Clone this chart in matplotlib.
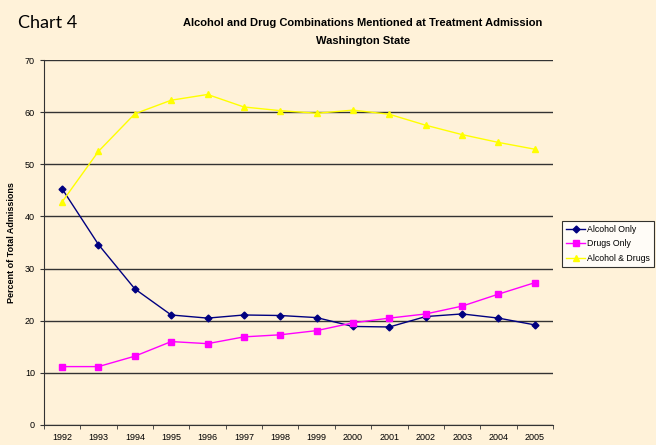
import matplotlib
matplotlib.use("Agg")
import matplotlib.pyplot as plt
import numpy as np

years = ["1992", "1993", "1994", "1995", "1996", "1997", "1998",
         "1999", "2000", "2001", "2002", "2003", "2004", "2005"]
alcohol_only = [45.3, 34.6, 26.1, 21.1, 20.5, 21.1, 21.0,
                20.6, 18.9, 18.8, 20.8, 21.3, 20.5, 19.2]
drugs_only = [11.2, 11.2, 13.2, 16.0, 15.6, 16.9, 17.3,
              18.1, 19.6, 20.5, 21.3, 22.8, 25.1, 27.3]
alcohol_drugs = [42.8, 52.5, 59.7, 62.3, 63.4, 61.0, 60.3,
                 59.8, 60.4, 59.6, 57.5, 55.7, 54.2, 52.9]

bg = "#FFF2D9"
plt.rcParams["font.family"] = ["Liberation Sans", "DejaVu Sans"]

fig = plt.figure(figsize=(6.56, 4.45), dpi=100, facecolor=bg)
ax = fig.add_axes([0.067, 0.045, 0.776, 0.82])
ax.set_facecolor(bg)

x = np.arange(len(years))
ax.plot(x, alcohol_only, color="#000080", marker="D", markersize=3.5,
        linewidth=1, label="Alcohol Only")
ax.plot(x, drugs_only, color="#FF00FF", marker="s", markersize=5,
        linewidth=1, label="Drugs Only")
ax.plot(x, alcohol_drugs, color="#FFFF00", marker="^", markersize=5,
        linewidth=1, label="Alcohol & Drugs")

ax.set_xlim(-0.5, len(years) - 0.5)
ax.set_ylim(0, 70)
ax.set_yticks(range(0, 71, 10))
ax.set_xticks(x)
ax.set_xticklabels(years)
ax.set_xticks(np.arange(-0.5, len(years)), minor=True)
ax.tick_params(axis="x", which="major", length=0, labelsize=6.5, pad=6)
ax.tick_params(axis="x", which="minor", length=3, color="#333333")
ax.tick_params(axis="y", length=3, labelsize=6.5, color="#333333")
ax.yaxis.grid(True, color="#333333", linewidth=1)
ax.set_axisbelow(True)
for s in ["top", "right"]:
    ax.spines[s].set_visible(False)
for s in ["left", "bottom"]:
    ax.spines[s].set_color("#333333")

ax.set_ylabel("Percent of Total Admissions", fontsize=6.5, fontweight="bold",
              labelpad=6)

leg = ax.legend(loc="center left", bbox_to_anchor=(1.018, 0.496), fontsize=6.3,
                frameon=True, fancybox=False, edgecolor="black",
                facecolor="white", borderaxespad=0, handlelength=2.2,
                handletextpad=0.2, labelspacing=0.6, borderpad=0.45)
leg.get_frame().set_linewidth(0.8)

fig.text(0.027, 0.948, "Chart 4", fontsize=13, ha="left", va="center",
         family=["Lato", "DejaVu Sans"])
fig.text(0.553, 0.948, "Alcohol and Drug Combinations Mentioned at Treatment Admission",
         fontsize=8, fontweight="bold", ha="center", va="center")
fig.text(0.553, 0.907, "Washington State", fontsize=8, fontweight="bold",
         ha="center", va="center")

fig.savefig("out.png", dpi=100, facecolor=bg)
